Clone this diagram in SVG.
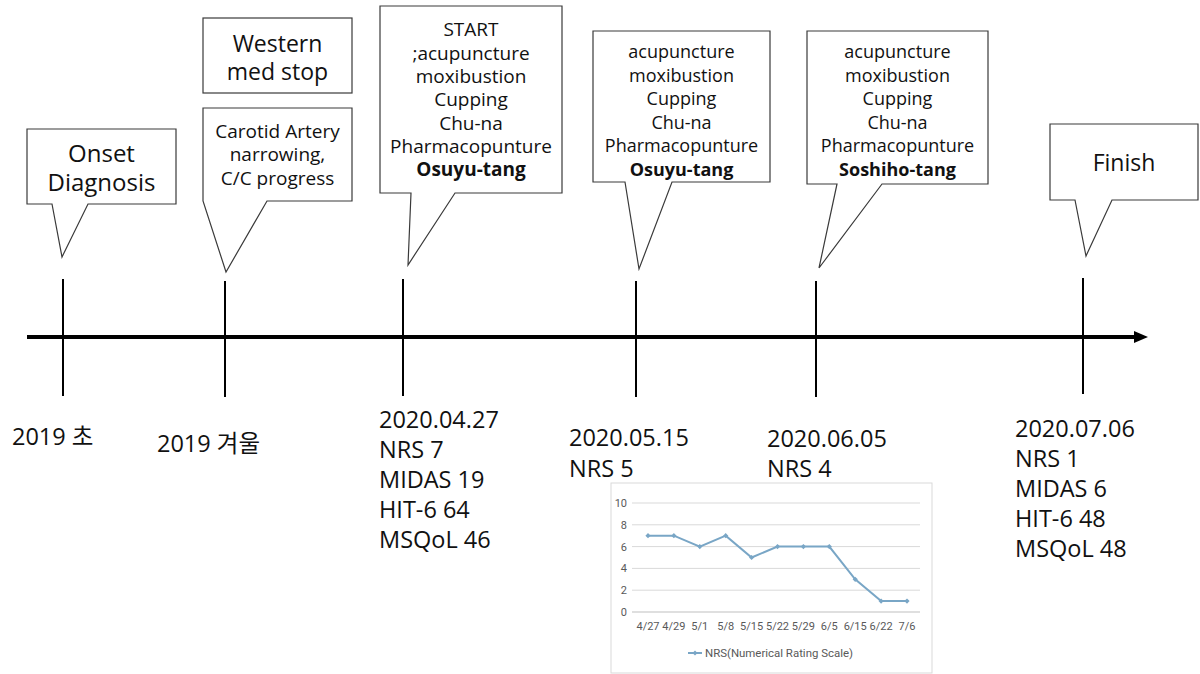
<svg xmlns="http://www.w3.org/2000/svg" width="1200" height="674" viewBox="0 0 1200 674">
<defs>
<style>
.co{fill:#fff;stroke:#3a3a3a;stroke-width:1.2;stroke-linejoin:miter}
.t{font-family:"Open Sans","Noto Sans CJK KR",sans-serif;fill:#111;text-anchor:middle}
.b{font-weight:bold}
.lbl{font-family:"Open Sans","Noto Sans CJK KR",sans-serif;fill:#111;font-size:23.5px}
.tick{stroke:#000;stroke-width:2}
.ax{font-family:Roboto,"Liberation Sans",sans-serif;font-size:11px;fill:#595959}
.grid{stroke:#d9d9d9;stroke-width:1}
</style>
<marker id="dia" viewBox="-3 -3 6 6" markerWidth="6" markerHeight="6" markerUnits="userSpaceOnUse" refX="0" refY="0">
<path d="M0,-2.6 L2.6,0 L0,2.6 L-2.6,0 Z" fill="#79a6c6"/>
</marker>
</defs>
<rect width="1200" height="674" fill="#fff"/>

<g id="connectors">
<line x1="27" y1="337" x2="1136" y2="337" stroke="#000" stroke-width="4"/>
<polygon points="1134,331 1148,337 1134,343" fill="#000"/>
<line class="tick" x1="63" y1="279" x2="63" y2="396"/>
<line class="tick" x1="225" y1="281" x2="225" y2="397"/>
<line class="tick" x1="403" y1="279" x2="403" y2="396"/>
<line class="tick" x1="636" y1="281" x2="636" y2="397"/>
<line class="tick" x1="816" y1="281" x2="816" y2="397"/>
<line class="tick" x1="1083" y1="278" x2="1083" y2="394"/>
</g>

<g id="onset">
<path class="co" d="M27,129 H176 V204 H88 L62,257 L52,204 H27 Z"/>
<text class="t" x="101.5" y="162" font-size="24">Onset</text>
<text class="t" x="101.5" y="191" font-size="24">Diagnosis</text>
</g>

<g id="western">
<rect class="co" x="203" y="18" width="149" height="75"/>
<text class="t" x="277.5" y="52" font-size="23">Western</text>
<text class="t" x="277.5" y="80" font-size="23">med stop</text>
</g>

<g id="carotid">
<path class="co" d="M203,108 H352 V201 H267 L226,272 L203,201 Z"/>
<text class="t" x="277.5" y="138" font-size="19">Carotid Artery</text>
<text class="t" x="277.5" y="161" font-size="19">narrowing,</text>
<text class="t" x="277.5" y="185" font-size="19">C/C progress</text>
</g>

<g id="start">
<path class="co" d="M380,6 H562 V193 H455 L408,265 L411,193 H380 Z"/>
<g class="t" font-size="19">
<text x="471" y="36">START</text>
<text x="471" y="59.5">;acupuncture</text>
<text x="471" y="83">moxibustion</text>
<text x="471" y="106">Cupping</text>
<text x="471" y="129.5">Chu-na</text>
<text x="471" y="153">Pharmacopunture</text>
<text class="b" x="471" y="176">Osuyu-tang</text>
</g>
</g>

<g id="osuyu">
<path class="co" d="M593,31 H770 V182 H672 L639,269 L625,182 H593 Z"/>
<g class="t" font-size="18">
<text x="681.5" y="58">acupuncture</text>
<text x="681.5" y="81.5">moxibustion</text>
<text x="681.5" y="105">Cupping</text>
<text x="681.5" y="128.5">Chu-na</text>
<text x="681.5" y="152">Pharmacopunture</text>
<text class="b" x="681.5" y="175.5">Osuyu-tang</text>
</g>
</g>

<g id="soshiho">
<path class="co" d="M807,31 H988 V184 H882 L819,268 L837,184 H807 Z"/>
<g class="t" font-size="18">
<text x="897.5" y="58">acupuncture</text>
<text x="897.5" y="81.5">moxibustion</text>
<text x="897.5" y="105">Cupping</text>
<text x="897.5" y="128.5">Chu-na</text>
<text x="897.5" y="152">Pharmacopunture</text>
<text class="b" x="897.5" y="175.5">Soshiho-tang</text>
</g>
</g>

<g id="finish">
<path class="co" d="M1050,124 H1198 V200 H1112 L1086,256 L1075,200 H1050 Z"/>
<text class="t" x="1124" y="171" font-size="23">Finish</text>
</g>

<g id="label-2019-early">
<text class="lbl" x="12" y="445">2019 초</text>
</g>
<g id="label-2019-winter">
<text class="lbl" x="157" y="452">2019 겨울</text>
</g>
<g id="label-0427">
<text class="lbl" x="379" y="428">2020.04.27</text>
<text class="lbl" x="379" y="458">NRS 7</text>
<text class="lbl" x="379" y="488">MIDAS 19</text>
<text class="lbl" x="379" y="518">HIT-6 64</text>
<text class="lbl" x="379" y="548">MSQoL 46</text>
</g>
<g id="label-0515">
<text class="lbl" x="569" y="446">2020.05.15</text>
<text class="lbl" x="569" y="477">NRS 5</text>
</g>
<g id="label-0605">
<text class="lbl" x="767" y="447">2020.06.05</text>
<text class="lbl" x="767" y="477">NRS 4</text>
</g>
<g id="label-0706">
<text class="lbl" x="1015" y="437">2020.07.06</text>
<text class="lbl" x="1015" y="467">NRS 1</text>
<text class="lbl" x="1015" y="497">MIDAS 6</text>
<text class="lbl" x="1015" y="527">HIT-6 48</text>
<text class="lbl" x="1015" y="557">MSQoL 48</text>
</g>

<g id="nrs-chart">
<rect x="611" y="483" width="321" height="190" fill="#fff" stroke="#d9d9d9" stroke-width="1"/>
<line class="grid" x1="632" y1="503" x2="920" y2="503"/>
<line class="grid" x1="632" y1="524.8" x2="920" y2="524.8"/>
<line class="grid" x1="632" y1="546.6" x2="920" y2="546.6"/>
<line class="grid" x1="632" y1="568.4" x2="920" y2="568.4"/>
<line class="grid" x1="632" y1="590.2" x2="920" y2="590.2"/>
<line x1="632" y1="612" x2="920" y2="612" stroke="#bfbfbf" stroke-width="1"/>
<g class="ax" text-anchor="end">
<text x="627" y="507">10</text>
<text x="627" y="528.8">8</text>
<text x="627" y="550.6">6</text>
<text x="627" y="572.4">4</text>
<text x="627" y="594.2">2</text>
<text x="627" y="616">0</text>
</g>
<g class="ax" text-anchor="middle">
<text x="648" y="630">4/27</text>
<text x="673.9" y="630">4/29</text>
<text x="699.8" y="630">5/1</text>
<text x="725.7" y="630">5/8</text>
<text x="751.6" y="630">5/15</text>
<text x="777.5" y="630">5/22</text>
<text x="803.4" y="630">5/29</text>
<text x="829.3" y="630">6/5</text>
<text x="855.2" y="630">6/15</text>
<text x="881.1" y="630">6/22</text>
<text x="907" y="630">7/6</text>
</g>
<polyline points="648,535.7 673.9,535.7 699.8,546.6 725.7,535.7 751.6,557.5 777.5,546.6 803.4,546.6 829.3,546.6 855.2,579.3 881.1,601.1 907,601.1" fill="none" stroke="#79a6c6" stroke-width="2" marker-start="url(#dia)" marker-mid="url(#dia)" marker-end="url(#dia)"/>
<line x1="688" y1="653" x2="702" y2="653" stroke="#79a6c6" stroke-width="2" marker-mid="url(#dia)"/>
<path d="M695,650.5 L697.5,653 L695,655.5 L692.5,653 Z" fill="#79a6c6"/>
<text class="ax" x="705" y="657" textLength="148" lengthAdjust="spacingAndGlyphs">NRS(Numerical Rating Scale)</text>
</g>
</svg>
